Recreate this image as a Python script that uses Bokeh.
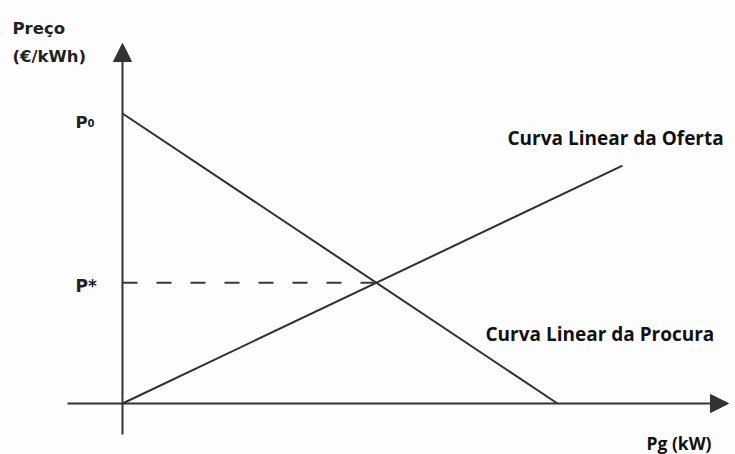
from bokeh.plotting import figure
from bokeh.models import Range1d, Arrow, NormalHead
from bokeh.core.properties import value
from bokeh.embed import file_html
from bokeh.resources import INLINE

# --- data (schematic units) ---
P0 = 10.0                 # demand intercept on price axis
demand_q = [0.0, 8.7]     # demand line Pg
demand_p = [P0, 0.0]      # demand line price
supply_q = [0.0, 10.0]    # supply line Pg
supply_p = [0.0, 8.2]     # supply line price
# equilibrium
a_d = P0 / demand_q[1]
b_s = supply_p[1] / supply_q[1]
Q_star = P0 / (a_d + b_s)
P_star = b_s * Q_star

labels_right = ["Curva Linear da Oferta", "Curva Linear da Procura"]
x_label = "Pg (kW)"
y_label = ["Preço", "(€/kWh)"]

# pixel scale helpers (layout only)
SX, SY = 50.0, 29.0
PAGE = 0.0
W, H = 735, 454
OX, OY = 122.0 - PAGE, 403.0 - PAGE   # origin within the frame

def dx(px):
    return (px - PAGE - OX) / SX

def dy(py):
    return (OY - (py - PAGE)) / SY

p = figure(width=W, height=H, output_backend="svg", toolbar_location=None,
           x_range=Range1d(-OX / SX, (W - OX) / SX),
           y_range=Range1d(-(H - OY) / SY, OY / SY),
           min_border=0, background_fill_color="#fdfdfd",
           border_fill_color="#fdfdfd")
p.axis.visible = False
p.grid.visible = False
p.outline_line_color = None

axis_col = "#333333"
line_col = "#2e2e2e"

# axes with arrow heads
p.add_layout(Arrow(end=NormalHead(size=18, fill_color=axis_col, line_color=axis_col),
                   x_start=dx(67), y_start=0, x_end=dx(728), y_end=0,
                   line_color=axis_col, line_width=2))
p.add_layout(Arrow(end=NormalHead(size=18, fill_color=axis_col, line_color=axis_col),
                   x_start=0, y_start=dy(434), x_end=0, y_end=dy(43),
                   line_color=axis_col, line_width=2))

# curves
p.line(demand_q, demand_p, line_color=line_col, line_width=2)
p.line(supply_q, supply_p, line_color=line_col, line_width=2)
p.line([0, Q_star], [P_star, P_star], line_color="#3a3a3a", line_width=2,
       line_dash="15 19")

bold_sans = value("DejaVu Sans")
calib = value("Open Sans")

# y-axis title
p.text(x=[dx(12), dx(12)], y=[dy(28), dy(56)], text=y_label,
       text_font=bold_sans, text_font_style="bold", text_font_size="16.5px",
       text_color="#222222", text_baseline="alphabetic", text_align="left")

# P0 and P*
p.text(x=[dx(75)], y=[dy(122)], text=["P"], text_font=bold_sans,
       text_font_style="bold", text_font_size="16.5px", text_color="#222222",
       text_baseline="alphabetic")
p.text(x=[dx(87)], y=[dy(122)], text=["0"], text_font=bold_sans,
       text_font_style="bold", text_font_size="10px", text_color="#222222",
       text_baseline="alphabetic")
p.text(x=[dx(75)], y=[dy(285)], text=["P*"], text_font=bold_sans,
       text_font_style="bold", text_font_size="17px", text_color="#222222",
       text_baseline="alphabetic")

# curve labels
p.text(x=[dx(507), dx(485)], y=[dy(137), dy(333)], text=labels_right,
       text_font=calib, text_font_style="bold", text_font_size="19px",
       text_color="#111111", text_baseline="alphabetic")
p.text(x=[dx(646)], y=[dy(442)], text=[x_label], text_font=calib,
       text_font_style="bold", text_font_size="17.5px", text_color="#111111",
       text_baseline="alphabetic")

open("out.html", "w").write(file_html(p, INLINE))
